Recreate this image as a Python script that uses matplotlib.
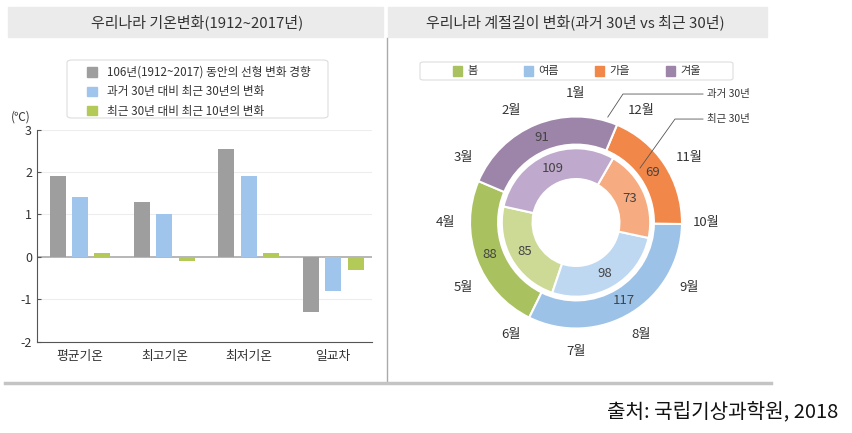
import numpy as np
import matplotlib
matplotlib.use('Agg')
import matplotlib.pyplot as plt
from matplotlib.patches import Patch, Rectangle, FancyBboxPatch
from matplotlib.lines import Line2D

plt.rcParams['font.family'] = ['Noto Sans CJK KR', 'DejaVu Sans']

W, H = 853, 433

# left chart: temperature change (deg C)
categories = ['평균기온', '최고기온', '최저기온', '일교차']
trend_106yr = [1.9, 1.3, 2.55, -1.3]
recent30_vs_past30 = [1.4, 1.0, 1.9, -0.8]
recent10_vs_recent30 = [0.1, -0.1, 0.1, -0.3]
bar_labels = ['106년(1912~2017) 동안의 선형 변화 경향',
              '과거 30년 대비 최근 30년의 변화',
              '최근 30년 대비 최근 10년의 변화']
bar_colors = ['#9e9e9e', '#9fc5ec', '#b3ca58']
y_ticks = [-2, -1, 0, 1, 2, 3]

# right chart: season length (days)
seasons = ['봄', '여름', '가을', '겨울']
past30 = [88, 117, 69, 91]
recent30 = [85, 98, 73, 109]
outer_colors = ['#a9c25f', '#9cc2e8', '#f2874a', '#9d84a9']
inner_colors = ['#cdda96', '#bfd8f2', '#f6ab80', '#bfa9cc']
months = [f'{m}월' for m in range(1, 13)]


def fx(x):
    return x / W


def fy(y):
    return 1 - y / H


fig = plt.figure(figsize=(W / 100, H / 100), dpi=100)
fig.patch.set_facecolor('white')

# header bands
for x0, x1, title, cx in [(8, 383, '우리나라 기온변화(1912~2017년)', 197),
                          (388, 767, '우리나라 계절길이 변화(과거 30년 vs 최근 30년)', 575)]:
    fig.patches.append(Rectangle((fx(x0), fy(37)), (x1 - x0) / W, 30 / H,
                                 transform=fig.transFigure, color='#ebebeb', zorder=0))
    fig.text(fx(cx), fy(22), title, ha='center', va='center', fontsize=10.8, color='#333333')

# separators
fig.lines.append(Line2D([fx(387), fx(387)], [fy(38), fy(383)], transform=fig.transFigure,
                        color='#aaaaaa', lw=1))
fig.lines.append(Line2D([fx(5), fx(771)], [fy(383), fy(383)], transform=fig.transFigure,
                        color='#c4c4c4', lw=2.5))

# ---- left: bar chart
ax = fig.add_axes([fx(37), fy(341.7), (372 - 37) / W, (341.7 - 129.6) / H])
x = np.arange(len(categories))
offsets = [-0.266, 0, 0.266]
series = [trend_106yr, recent30_vs_past30, recent10_vs_recent30]
handles = []
for off, vals, col, lab in zip(offsets, series, bar_colors, bar_labels):
    ax.bar(x + off, vals, width=0.19, color=col, zorder=2)
    handles.append(Patch(color=col, label=lab))

for yv in [1, 2, 3, -1]:
    ax.axhline(yv, color='#ededed', lw=0.8, zorder=0)
ax.axhline(0, color='#aaaaaa', lw=1.2, zorder=1)

ax.set_xlim(-0.51, 3.46)
ax.set_ylim(-2, 3)
ax.set_yticks(y_ticks)
ax.set_yticklabels([str(v) for v in y_ticks])
ax.set_xticks(x)
ax.set_xticklabels(categories)
ax.tick_params(axis='x', length=0, pad=6, labelsize=9.2, labelcolor='#333333')
ax.tick_params(axis='y', length=3, direction='in', labelsize=9, labelcolor='#333333', color='#555555')
for s in ['top', 'right']:
    ax.spines[s].set_visible(False)
for s in ['left', 'bottom']:
    ax.spines[s].set_color('#555555')
    ax.spines[s].set_linewidth(0.8)

fig.text(fx(21), fy(117), '(℃)', ha='center', va='center', fontsize=8.5, color='#333333')

# legend frame drawn separately so the padding can match
fig.patches.append(FancyBboxPatch((fx(67), fy(118)), (328 - 67) / W, 58 / H,
                                  boxstyle='round,pad=0,rounding_size=0.006',
                                  transform=fig.transFigure, facecolor='white',
                                  edgecolor='#dddddd', lw=0.8, zorder=3))
leg = fig.legend(handles=handles, loc='upper left', bbox_to_anchor=(fx(87), fy(66)),
                 fontsize=8.4, handlelength=0.85, handleheight=0.85, handletextpad=0.9,
                 borderpad=0, borderaxespad=0, labelspacing=0.55, frameon=False,
                 labelcolor='#333333')
leg.set_zorder(4)

# ---- right: donut chart
cx, cy, R = 576, 222.5, 106
ax2 = fig.add_axes([fx(395), fy(380), 380 / W, (380 - 45) / H])

outer, _ = ax2.pie(past30, radius=1.0, startangle=157, counterclock=True, colors=outer_colors,
                   wedgeprops=dict(width=0.265, edgecolor='white', linewidth=1.5))
inner, _ = ax2.pie(recent30, radius=0.70, startangle=167.5, counterclock=True, colors=inner_colors,
                   wedgeprops=dict(width=0.29, edgecolor='white', linewidth=1.5))

for wedges, vals, r in [(outer, past30, 1 - 0.265 / 2), (inner, recent30, 0.70 - 0.29 / 2)]:
    for w, v in zip(wedges, vals):
        a = np.deg2rad((w.theta1 + w.theta2) / 2)
        ax2.text(r * np.cos(a), r * np.sin(a), str(v), ha='center', va='center',
                 fontsize=9.5, color='#444444')

for i, m in enumerate(months):
    a = np.deg2rad(90 + 30 * i)
    ax2.text(1.23 * np.cos(a), 1.22 * np.sin(a), m, ha='center', va='center',
             fontsize=9.5, color='#333333')

# ring callouts
ax2.plot([0.30, 0.443, 1.198], [0.995, 1.212, 1.212], color='#555555', lw=0.6)
ax2.plot([0.604, 0.934, 1.198], [0.514, 0.976, 0.976], color='#555555', lw=0.6)
ax2.text(1.24, 1.212, '과거 30년', ha='left', va='center', fontsize=7.5, color='#333333')
ax2.text(1.24, 0.976, '최근 30년', ha='left', va='center', fontsize=7.5, color='#333333')

ax2.set_xlim((395 - cx) / R, (775 - cx) / R)
ax2.set_ylim((cy - 380) / R, (cy - 45) / R)
ax2.set_aspect('auto')
ax2.axis('off')

# season legend
fig.patches.append(FancyBboxPatch((fx(420), fy(80)), (733 - 420) / W, 18 / H,
                                  boxstyle='round,pad=0,rounding_size=0.004',
                                  transform=fig.transFigure, facecolor='white',
                                  edgecolor='#dddddd', lw=0.8))
for i, (s, c) in enumerate(zip(seasons, outer_colors)):
    px = 453 + 71 * i
    fig.patches.append(Rectangle((fx(px), fy(75.5)), 9 / W, 9 / H, transform=fig.transFigure,
                                 color=c))
    fig.text(fx(px + 14), fy(71), s, ha='left', va='center', fontsize=8, color='#333333')

fig.text(fx(838), fy(412), '출처: 국립기상과학원, 2018', ha='right', va='center',
         fontsize=14.5, color='#111111')

fig.savefig('out.png', dpi=100)
